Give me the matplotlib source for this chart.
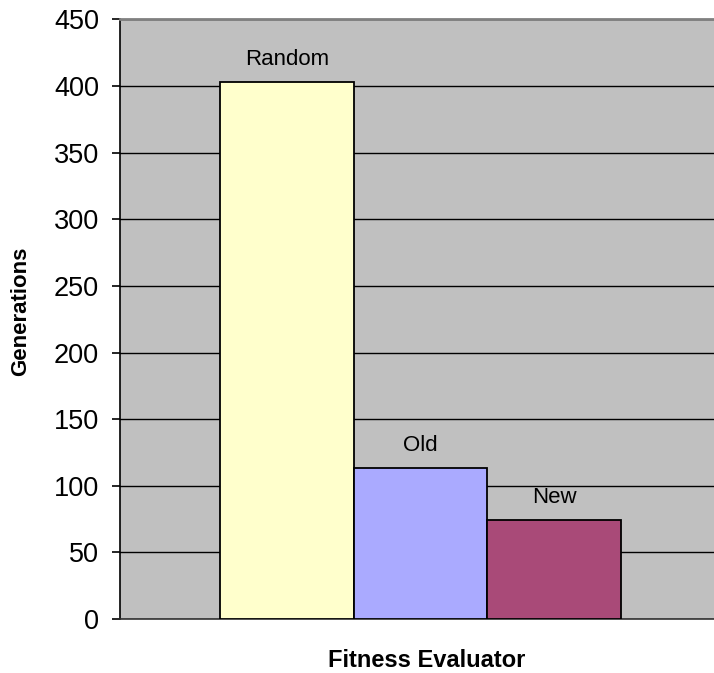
import matplotlib.pyplot as plt

plt.rcParams['font.family'] = ['Liberation Sans', 'DejaVu Sans']

evaluators = ['Random', 'Old', 'New']
generations = [403, 113, 74]
bar_colors = ['#FFFFCC', '#AAAAFF', '#A94A78']
yticks = [0, 50, 100, 150, 200, 250, 300, 350, 400, 450]

fig = plt.figure(figsize=(7.14, 6.73), dpi=100)
ax = fig.add_axes([120 / 714, 1 - 619 / 673, 1 - 120 / 714, (619 - 19.5) / 673])
ax.set_facecolor('#C0C0C0')

pos = list(range(len(evaluators)))
ax.bar(pos, generations, width=1.0, color=bar_colors, edgecolor='black',
       linewidth=1.3, zorder=3)

# series name sits just above each bar
for x, v, name in zip(pos, generations, evaluators):
    ax.annotate(name, (x, v), xytext=(0, 12.6), textcoords='offset points',
                ha='center', va='baseline', fontsize=16)

ax.set_ylim(0, 450)
ax.set_xlim(-1.248, 3.196)
ax.set_yticks(yticks)
ax.yaxis.grid(True, color='black', linewidth=1.0, zorder=0)
ax.set_axisbelow(True)
ax.set_xticks([])
ax.tick_params(axis='y', labelsize=19.5, length=6, width=1.2, direction='out', pad=9)

ax.spines['right'].set_visible(False)
ax.spines['top'].set_color('#808080')
ax.spines['top'].set_linewidth(2)
ax.spines['left'].set_linewidth(1.2)
ax.spines['bottom'].set_linewidth(1.2)
ax.spines['bottom'].set_color('#333333')

fig.text(21 / 714, 1 - 311 / 673, 'Generations', rotation=90, ha='center',
         va='center', fontsize=16, fontweight='bold')
fig.text(427 / 714, 1 - 667 / 673, 'Fitness Evaluator', ha='center',
         va='baseline', fontsize=17, fontweight='bold')

fig.savefig('out.png', dpi=100)
